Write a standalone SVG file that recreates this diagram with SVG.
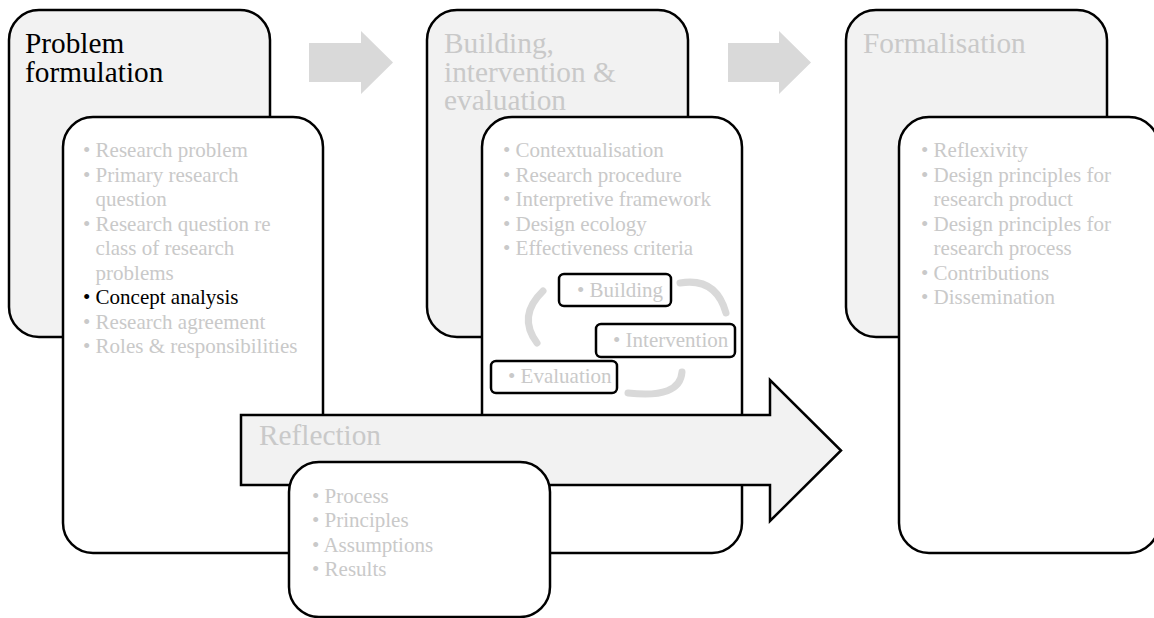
<svg xmlns="http://www.w3.org/2000/svg" width="1154" height="618" viewBox="0 0 1154 618">
  <style>
    text { font-family: "Liberation Serif", "Times New Roman", serif; }
    .outer { fill: #f2f2f2; stroke: #000; stroke-width: 2.5; }
    .inner { fill: #ffffff; stroke: #000; stroke-width: 2.5; }
    .step { fill: #ffffff; stroke: #000; stroke-width: 2.5; }
    .title { font-size: 29.3px; fill: #c9c9c9; }
    .title.active { fill: #000; }
    .item { font-size: 21px; fill: #c9c9c9; }
    .item .on { fill: #000; }
    .flow { fill: #d9d9d9; }
    .cycle { fill: none; stroke: #d9d9d9; stroke-width: 7; stroke-linecap: round; }
    .big-arrow { fill: #f2f2f2; stroke: #000; stroke-width: 2.5; stroke-linejoin: miter; }
  </style>

  <!-- phase-to-phase flow arrows -->
  <g id="connectors">
    <path class="flow" d="M309,43 H361 V31 L393,62.5 L361,94 V82 H309 Z"/>
    <path class="flow" d="M728,43 H779 V31 L811,62.5 L779,94 V82 H728 Z"/>
  </g>

  <!-- Phase 1 -->
  <g id="problem-formulation">
    <rect class="outer" x="9" y="10" width="261" height="327" rx="30" ry="30"/>
    <text class="title active" x="25" y="53">Problem</text>
    <text class="title active" x="25" y="81.5">formulation</text>
  </g>
  <g id="problem-formulation-items">
    <rect class="inner" x="63" y="117" width="260" height="436" rx="30" ry="30"/>
    <text class="item">
      <tspan x="83" y="157">• Research problem</tspan>
      <tspan x="83" y="181.5">• Primary research</tspan>
      <tspan x="95.6" y="206">question</tspan>
      <tspan x="83" y="230.5">• Research question re</tspan>
      <tspan x="95.6" y="255">class of research</tspan>
      <tspan x="95.6" y="279.5">problems</tspan>
      <tspan class="on" x="83" y="304">• Concept analysis</tspan>
      <tspan x="83" y="328.5">• Research agreement</tspan>
      <tspan x="83" y="353">• Roles &amp; responsibilities</tspan>
    </text>
  </g>

  <!-- Phase 2 -->
  <g id="building-intervention-evaluation">
    <rect class="outer" x="427" y="10" width="261" height="327" rx="30" ry="30"/>
    <text class="title" x="444" y="53">Building,</text>
    <text class="title" x="444" y="81.5">intervention &amp;</text>
    <text class="title" x="444" y="110">evaluation</text>
  </g>
  <g id="building-intervention-evaluation-items">
    <rect class="inner" x="482" y="117" width="260" height="436" rx="30" ry="30"/>
    <text class="item">
      <tspan x="503" y="157">• Contextualisation</tspan>
      <tspan x="503" y="181.5">• Research procedure</tspan>
      <tspan x="503" y="206">• Interpretive framework</tspan>
      <tspan x="503" y="230.5">• Design ecology</tspan>
      <tspan x="503" y="255">• Effectiveness criteria</tspan>
    </text>
  </g>

  <!-- build / intervene / evaluate cycle -->
  <g id="cycle-arcs">
    <path class="cycle" d="M543,291 Q517,316 537,343"/>
    <path class="cycle" d="M680,283 Q716,277 726,313"/>
    <path class="cycle" d="M682,372 Q680,399 628,393"/>
  </g>
  <g id="step-building">
    <rect class="step" x="559" y="274" width="112" height="32" rx="5" ry="5"/>
    <text class="item" x="577" y="297">• Building</text>
  </g>
  <g id="step-intervention">
    <rect class="step" x="596" y="324" width="139" height="33" rx="5" ry="5"/>
    <text class="item" x="613" y="347">• Intervention</text>
  </g>
  <g id="step-evaluation">
    <rect class="step" x="491" y="361" width="126" height="32" rx="5" ry="5"/>
    <text class="item" x="508" y="383">• Evaluation</text>
  </g>

  <!-- Phase 3 -->
  <g id="formalisation">
    <rect class="outer" x="846" y="10" width="261" height="327" rx="30" ry="30"/>
    <text class="title" x="863" y="53">Formalisation</text>
  </g>
  <g id="formalisation-items">
    <rect class="inner" x="899" y="117" width="260" height="436" rx="30" ry="30"/>
    <text class="item">
      <tspan x="921" y="157">• Reflexivity</tspan>
      <tspan x="921" y="181.5">• Design principles for</tspan>
      <tspan x="933.6" y="206">research product</tspan>
      <tspan x="921" y="230.5">• Design principles for</tspan>
      <tspan x="933.6" y="255">research process</tspan>
      <tspan x="921" y="279.5">• Contributions</tspan>
      <tspan x="921" y="304">• Dissemination</tspan>
    </text>
  </g>

  <!-- Reflection band running across phases -->
  <g id="reflection">
    <path class="big-arrow" d="M241,415 H770 V380 L841,450.5 L770,521 V485 H241 Z"/>
    <text class="title" x="259" y="445">Reflection</text>
  </g>
  <g id="reflection-items">
    <rect class="inner" x="289" y="462" width="261" height="155" rx="30" ry="30"/>
    <text class="item">
      <tspan x="312" y="503">• Process</tspan>
      <tspan x="312" y="527">• Principles</tspan>
      <tspan x="312" y="551.5">• Assumptions</tspan>
      <tspan x="312" y="576">• Results</tspan>
    </text>
  </g>
</svg>
